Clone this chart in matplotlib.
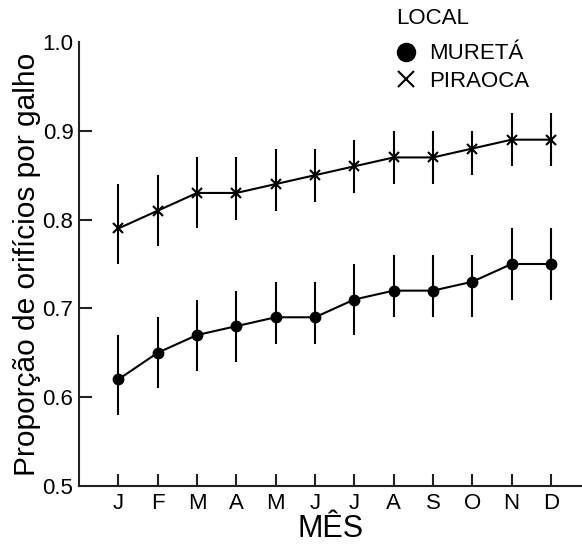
import matplotlib
matplotlib.use("Agg")
import matplotlib.pyplot as plt
from matplotlib.lines import Line2D
import numpy as np

plt.rcParams['font.family'] = ['Liberation Sans', 'DejaVu Sans']

meses = ['J', 'F', 'M', 'A', 'M', 'J', 'J', 'A', 'S', 'O', 'N', 'D']

# Muretá: média e extremos das barras
mureta = [0.62, 0.65, 0.67, 0.68, 0.69, 0.69, 0.71, 0.72, 0.72, 0.73, 0.75, 0.75]
mureta_sup = [0.67, 0.69, 0.71, 0.72, 0.73, 0.73, 0.75, 0.76, 0.76, 0.76, 0.79, 0.79]
mureta_inf = [0.58, 0.61, 0.63, 0.64, 0.66, 0.66, 0.67, 0.69, 0.69, 0.69, 0.71, 0.71]

# Piraoca
piraoca = [0.79, 0.81, 0.83, 0.83, 0.84, 0.85, 0.86, 0.87, 0.87, 0.88, 0.89, 0.89]
piraoca_sup = [0.84, 0.85, 0.87, 0.87, 0.88, 0.88, 0.89, 0.90, 0.90, 0.90, 0.92, 0.92]
piraoca_inf = [0.75, 0.77, 0.79, 0.80, 0.81, 0.82, 0.83, 0.84, 0.84, 0.85, 0.86, 0.86]

x = np.arange(1, len(meses) + 1)

fig = plt.figure(figsize=(5.82, 5.48), dpi=100)
ax = fig.add_axes([79 / 582, 62 / 548, 1 - 79 / 582, 444 / 548])

def serie(y, sup, inf, marker, ms, mew):
    y = np.array(y)
    err = [y - np.array(inf), np.array(sup) - y]
    ax.errorbar(x, y, yerr=err, fmt='-', color='black', lw=1.5,
                elinewidth=1.5, capsize=0, marker=marker, ms=ms, mew=mew,
                mfc='black', mec='black')

serie(mureta, mureta_sup, mureta_inf, 'o', 7.5, 1)
serie(piraoca, piraoca_sup, piraoca_inf, 'x', 7.5, 1.5)

ax.set_xlim(0.0, 12.79)
ax.set_ylim(0.5, 1.0)
ax.set_xticks(x)
ax.set_xticklabels(meses)
ax.set_yticks([0.5, 0.6, 0.7, 0.8, 0.9, 1.0])
ax.set_yticklabels(['0.5', '0.6', '0.7', '0.8', '0.9', '1.0'])
ax.tick_params(direction='in', length=9, width=1.5, labelsize=16, color='#222222')
ax.tick_params(axis='y', pad=4)
ax.tick_params(axis='x', pad=5)
for t in (ax.yaxis.get_major_ticks()[0], ax.yaxis.get_major_ticks()[-1]):
    t.tick1line.set_visible(False)

for s in ('top', 'right'):
    ax.spines[s].set_visible(False)
for s in ('left', 'bottom'):
    ax.spines[s].set_linewidth(1.5)
    ax.spines[s].set_color('#222222')

ax.set_xlabel('MÊS', fontsize=22, labelpad=0)
ax.set_ylabel('Proporção de orifícios por galho', fontsize=21.5, labelpad=1)

# legenda: título à parte para controlar o espaçamento
fig.text(396 / 582, 1 - 18 / 548, 'LOCAL', fontsize=16, ha='left', va='center')
handles = [
    Line2D([], [], ls='none', marker='o', ms=13, color='black'),
    Line2D([], [], ls='none', marker='x', ms=12, mew=1.5, color='black'),
]
fig.legend(handles, ['MURETÁ', 'PIRAOCA'], loc='upper left',
           bbox_to_anchor=(382 / 582, 1 - 30 / 548), frameon=False,
           fontsize=16, handlelength=1.0, handletextpad=0.5,
           labelspacing=0.28, borderpad=0.1)

fig.savefig('out.png', dpi=100)
